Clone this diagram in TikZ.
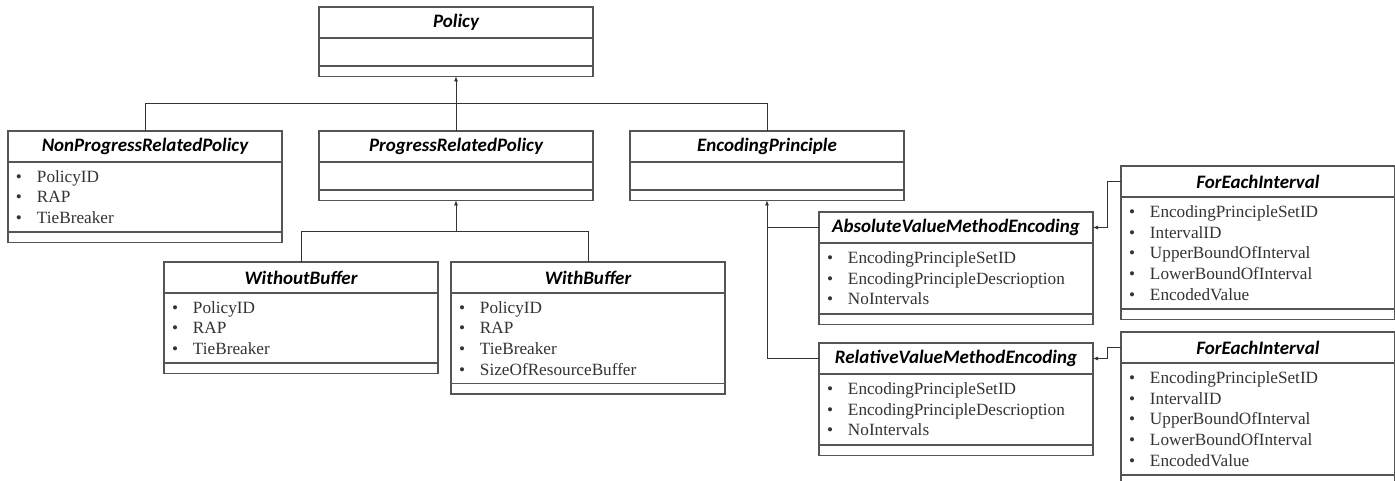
\documentclass[tikz,border=0pt]{standalone}
\usepackage{fontspec}
\setmainfont{Liberation Serif}
\newfontfamily\titlefont{Carlito}
\usetikzlibrary{arrows.meta,positioning}
\definecolor{umlline}{HTML}{555555}
\definecolor{umltext}{HTML}{333333}
\newcommand{\attr}[1]{\makebox[21pt][l]{\textbullet}#1}

\begin{document}
\begin{tikzpicture}[
  x=1pt,y=-1pt,
  font=\fontsize{17.2}{20.6}\selectfont,
  classtitle/.style={draw=umlline,line width=1.2pt,outer sep=0pt,minimum width=274pt,minimum height=31pt,inner sep=0pt,
    font=\titlefont\bfseries\itshape\fontsize{19}{22}\selectfont},
  classbody/.style={draw=umlline,line width=1.2pt,outer sep=0pt,minimum width=274pt,text width=258pt,inner xsep=8pt,inner ysep=0pt,
    align=left,text=umltext},
  classops/.style={draw=umlline,line width=1.2pt,outer sep=0pt,minimum width=274pt,minimum height=10.5pt,inner sep=0pt},
  conn/.style={draw=black!80,line width=0.6pt},
  arr/.style={-{Latex[length=5pt,width=4pt]}}
]
\fill[white] (0,0) rectangle (1395,481);
\useasboundingbox (0,0) rectangle (1395,481);

% top class
\node[classtitle,anchor=north west] (policy) at (319,7) {Policy};
\node[classbody,minimum height=28pt,below=0pt of policy] (policyA) {};
\node[classops,below=0pt of policyA] (policyO) {};

% second row
\node[classtitle,anchor=north west] (nonprog) at (8,131) {NonProgressRelatedPolicy};
\node[classbody,minimum height=70pt,below=0pt of nonprog] (nonprogA) {\attr{PolicyID}\\\attr{RAP}\\\attr{TieBreaker}};
\node[classops,below=0pt of nonprogA] (nonprogO) {};

\node[classtitle,anchor=north west] (prog) at (319,131) {ProgressRelatedPolicy};
\node[classbody,minimum height=28pt,below=0pt of prog] (progA) {};
\node[classops,below=0pt of progA] (progO) {};

\node[classtitle,anchor=north west] (encp) at (630,131) {EncodingPrinciple};
\node[classbody,minimum height=28pt,below=0pt of encp] (encpA) {};
\node[classops,below=0pt of encpA] (encpO) {};

% buffer variants
\node[classtitle,anchor=north west] (without) at (164,262) {WithoutBuffer};
\node[classbody,minimum height=70pt,below=0pt of without] (withoutA) {\attr{PolicyID}\\\attr{RAP}\\\attr{TieBreaker}};
\node[classops,below=0pt of withoutA] (withoutO) {};

\node[classtitle,anchor=north west] (with) at (451,262) {WithBuffer};
\node[classbody,minimum height=90.5pt,below=0pt of with] (withA) {\attr{PolicyID}\\\attr{RAP}\\\attr{TieBreaker}\\\attr{SizeOfResourceBuffer}};
\node[classops,below=0pt of withA] (withO) {};

% encoding methods
\node[classtitle,anchor=north west] (absval) at (819,212) {AbsoluteValueMethodEncoding};
\node[classbody,minimum height=71pt,below=0pt of absval] (absvalA) {\attr{EncodingPrincipleSetID}\\\attr{EncodingPrincipleDescrioption}\\\attr{NoIntervals}};
\node[classops,below=0pt of absvalA] (absvalO) {};

\node[classtitle,anchor=north west] (relval) at (819,343) {RelativeValueMethodEncoding};
\node[classbody,minimum height=71pt,below=0pt of relval] (relvalA) {\attr{EncodingPrincipleSetID}\\\attr{EncodingPrincipleDescrioption}\\\attr{NoIntervals}};
\node[classops,below=0pt of relvalA] (relvalO) {};

% intervals
\node[classtitle,anchor=north west] (fei1) at (1121,166) {ForEachInterval};
\node[classbody,minimum height=112pt,below=0pt of fei1] (fei1A) {\attr{EncodingPrincipleSetID}\\\attr{IntervalID}\\\attr{UpperBoundOfInterval}\\\attr{LowerBoundOfInterval}\\\attr{EncodedValue}};
\node[classops,below=0pt of fei1A] (fei1O) {};

\node[classtitle,anchor=north west] (fei2) at (1121,332) {ForEachInterval};
\node[classbody,minimum height=112pt,below=0pt of fei2] (fei2A) {\attr{EncodingPrincipleSetID}\\\attr{IntervalID}\\\attr{UpperBoundOfInterval}\\\attr{LowerBoundOfInterval}\\\attr{EncodedValue}};
\node[classops,below=0pt of fei2A] (fei2O) {};

% connectors
\draw[conn] (nonprog.north) -- ++(0,-28) -| (encp.north);
\draw[conn,arr] (prog.north) -- (policyO.south);
\draw[conn] (without.north) -- ++(0,-31) coordinate (pbus) -| (with.north);
\draw[conn,arr] (progO.south |- pbus) -- (progO.south);
\draw[conn,arr] (relval.west) -| (encpO.south);
\draw[conn] (absval.west) -- (absval.west -| encpO.south);
\draw[conn,arr] (fei1.west) -- ++(-14,0) |- (absval.east);
\draw[conn,arr] (fei2.west) -- ++(-14,0) |- (relval.east);
\end{tikzpicture}
\end{document}
